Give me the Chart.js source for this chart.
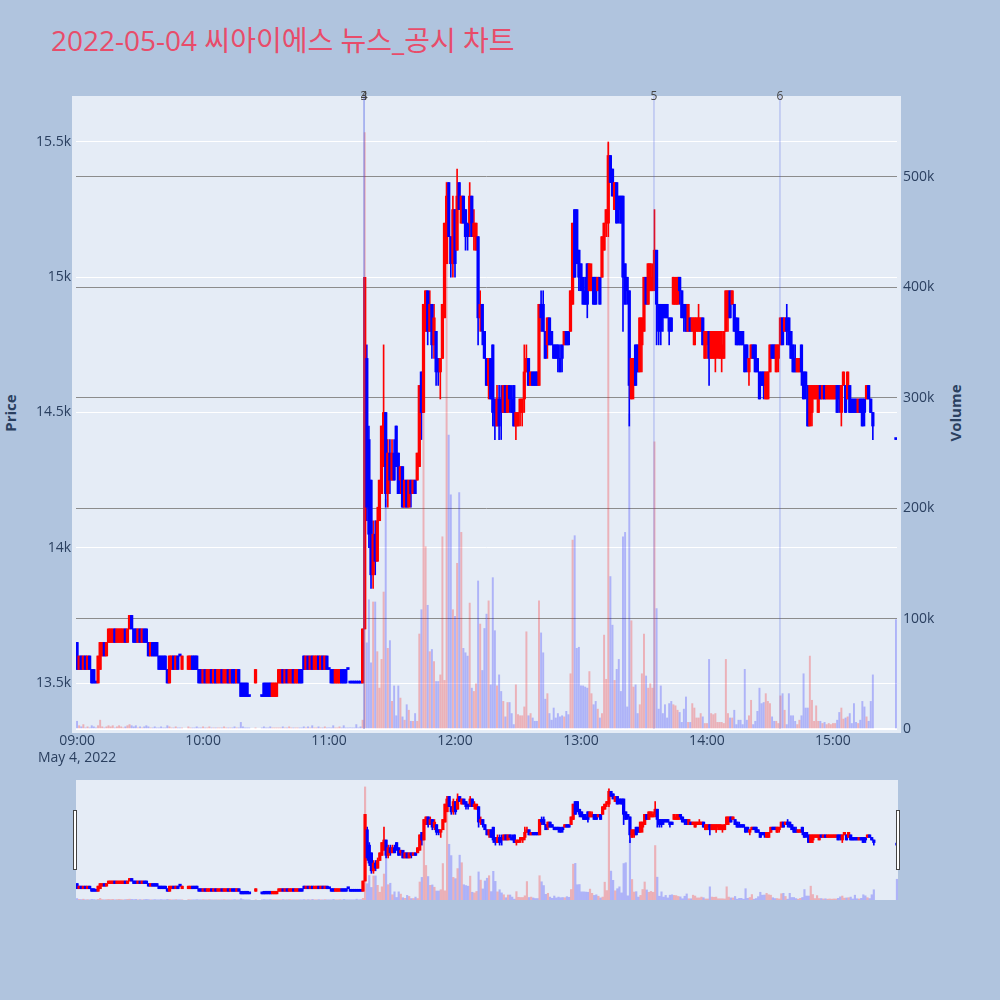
<!DOCTYPE html>
<html>
<head>
<meta charset="utf-8">
<script src="https://cdn.jsdelivr.net/npm/chart.js@4.4.0/dist/chart.umd.min.js"></script>
<style>
  body { margin:0; width:1000px; height:1000px; background:#B0C4DE; position:relative; overflow:hidden;
         font-family:"Open Sans","Noto Sans CJK KR",sans-serif; }
  #title { position:absolute; left:51px; top:22px; font-size:28px; line-height:36px; color:#E84C6A; white-space:nowrap; }
  .axisTitle { position:absolute; color:#2a3f5f; font-weight:bold; font-size:15px; transform:translate(-50%,-50%) rotate(-90deg); white-space:nowrap; }
  .handle { position:absolute; top:810px; width:2px; height:58px; background:#fff; border:1px solid #444; }
  canvas { position:absolute; left:0; }
</style>
</head>
<body>
<div id="title">2022-05-04 씨아이에스 뉴스_공시 차트</div>
<div class="axisTitle" style="left:10px;top:413px">Price</div>
<div class="axisTitle" style="left:955px;top:413px">Volume</div>
<canvas id="mainChart" width="1000" height="770" style="top:0;width:1000px;height:770px"></canvas>
<canvas id="sliderChart" width="1000" height="150" style="top:770px;width:1000px;height:150px"></canvas>
<div class="handle" style="left:73px"></div>
<div class="handle" style="left:896px"></div>
<script>
// 1. 데이터 (1분봉, 인덱스 = 09:00 이후 경과 분, null = 체결 없음)
const opens = [
  13650,13550,13600,13550,13600,13550,13600,13550,13550,13500,
  13500,13550,13600,13650,13600,13650,13650,13650,13700,13650,
  13650,13650,13650,13700,13650,13700,13750,13700,13700,13650,
  13700,13650,13700,13700,13650,13600,13650,13650,13650,13600,
  13600,13600,13600,13550,13500,13550,13600,13550,13600,13600,
  13550,null,null,13550,13550,13600,13600,13600,13550,13550,
  13500,13550,13500,13500,13550,13500,13550,13500,13500,13550,
  13500,13500,13550,13500,13550,13550,13500,13550,13500,13500,
  13500,13500,13450,null,null,13500,null,null,13450,13500,
  13500,13500,13500,13450,13450,13450,13500,13500,13550,13500,
  13550,13500,13500,13550,13500,13500,13550,13550,13600,13550,
  13600,13550,13600,13550,13550,13600,13550,13600,13550,13600,
  13550,13550,13550,13500,13500,13500,13550,13550,13550,13550,
  13500,13500,13500,13500,13500,13500,13500,13700,14700,14400,
  14250,13900,14050,13950,14100,14200,14300,14500,14200,14350,
  14250,14350,14450,14350,14250,14300,14150,14250,14150,14250,
  14200,14250,14250,14300,14650,14500,14800,14950,14800,14900,
  14750,14800,14700,14650,14700,14850,15050,15350,15150,15050,
  15250,15100,15350,15200,15300,15250,15200,15200,15300,15150,
  15100,15150,14850,14900,14800,14700,14600,14700,14750,14550,
  14450,14550,14550,14500,14600,14500,14600,14550,14600,14450,
  14450,14500,14500,14550,14650,14700,14600,14650,14650,14650,
  14600,14900,14900,14800,14750,14850,14800,14750,14750,14750,
  14700,14750,14750,14800,14800,14800,14900,15250,15250,15100,
  15050,15000,14950,15050,14950,14950,15000,15000,14950,15000,
  15000,15100,15200,15200,15450,15400,15250,15350,15300,15300,
  15300,15050,15000,14950,14550,14600,14750,14750,14650,14750,
  14800,15000,14900,14950,14950,15000,15100,14900,14900,14900,
  14900,14900,14850,14850,14900,14900,14900,15000,14950,14900,
  14900,14800,14850,14800,14750,14800,14800,14800,14850,14700,
  14750,14800,14700,14700,14700,14750,14700,14700,14700,14800,
  14850,14950,14900,14900,14850,14800,14800,14800,14750,14750,
  14650,14700,14750,14750,14700,14650,14650,14650,14550,14550,
  14650,14750,14750,14650,14700,14750,14850,14800,14850,14850,
  14800,14750,14700,14650,14650,14750,14650,14650,14600,14450,
  14500,14550,14550,14500,14600,14550,14600,14550,14550,14550,
  14550,14550,14600,14600,14500,14600,14600,14550,14600,14550,
  14550,14550,14500,14550,14550,14550,14550,14600,14550,14500,
  null,null,null,null,null,null,null,null,null,null,
  14400
];
const highs = [
  13650,13600,13600,13600,13600,13600,13600,13550,13550,13500,
  13600,13650,13650,13650,13650,13700,13700,13700,13700,13700,
  13700,13700,13700,13700,13700,13750,13750,13700,13700,13700,
  13700,13700,13700,13700,13650,13650,13650,13650,13650,13600,
  13600,13600,13600,13550,13600,13600,13600,13600,13600,13600,
  13600,null,null,13600,13600,13600,13600,13600,13550,13550,
  13550,13550,13550,13550,13550,13550,13550,13550,13550,13550,
  13550,13550,13550,13550,13550,13550,13550,13550,13500,13500,
  13500,13500,13450,null,null,13550,null,null,13450,13500,
  13500,13500,13500,13500,13500,13500,13550,13550,13550,13550,
  13550,13550,13550,13550,13550,13550,13550,13550,13600,13600,
  13600,13600,13600,13600,13600,13600,13600,13600,13600,13600,
  13550,13550,13550,13550,13550,13550,13550,13550,13550,13550,
  13500,13500,13500,13500,13500,13500,13700,15000,14750,14450,
  14250,14100,14100,14150,14250,14450,14750,14500,14400,14400,
  14400,14400,14450,14350,14300,14300,14250,14250,14250,14250,
  14250,14250,14350,14600,14650,14900,14950,14950,14950,14900,
  14900,14800,14700,14700,14900,15200,15350,15350,15150,15300,
  15250,15400,15350,15300,15300,15250,15200,15350,15300,15250,
  15200,15150,14950,14900,14800,14700,14700,14700,14750,14550,
  14600,14600,14600,14600,14600,14600,14600,14600,14600,14500,
  14500,14550,14550,14750,14750,14700,14650,14650,14650,14650,
  14900,14950,14950,14800,14850,14850,14800,14750,14750,14750,
  14750,14750,14800,14800,14800,14950,15200,15250,15250,15100,
  15050,15000,15000,15050,15050,15050,15000,15000,15000,15000,
  15150,15200,15250,15500,15450,15400,15350,15350,15300,15300,
  15300,15050,15000,14950,14700,14700,14750,14750,14850,14850,
  15000,15000,15050,15050,15050,15250,15100,14900,14900,14900,
  14900,14900,14850,14850,15000,15000,15000,15000,14950,14900,
  14900,14900,14850,14850,14850,14850,14900,14850,14850,14800,
  14800,14800,14800,14800,14800,14800,14800,14800,14800,14950,
  14950,14950,14950,14900,14850,14850,14800,14800,14750,14750,
  14700,14750,14750,14750,14700,14650,14650,14650,14650,14650,
  14750,14750,14750,14750,14750,14850,14850,14850,14900,14850,
  14800,14750,14750,14700,14700,14750,14650,14650,14600,14600,
  14600,14600,14600,14600,14600,14600,14600,14600,14600,14600,
  14600,14600,14600,14600,14600,14650,14600,14650,14600,14550,
  14550,14550,14550,14550,14550,14550,14600,14600,14550,14500,
  null,null,null,null,null,null,null,null,null,null,
  14400
];
const lows = [
  13550,13550,13550,13550,13550,13550,13550,13500,13500,13500,
  13500,13550,13600,13600,13600,13650,13650,13650,13650,13650,
  13650,13650,13650,13650,13650,13700,13700,13650,13650,13650,
  13650,13650,13650,13650,13600,13600,13600,13600,13600,13550,
  13550,13550,13550,13500,13500,13550,13550,13550,13550,13600,
  13550,null,null,13550,13550,13550,13550,13550,13500,13500,
  13500,13500,13500,13500,13500,13500,13500,13500,13500,13500,
  13500,13500,13500,13500,13500,13500,13500,13500,13450,13450,
  13450,13450,13450,null,null,13500,null,null,13450,13450,
  13450,13450,13450,13450,13450,13450,13500,13500,13500,13500,
  13500,13500,13500,13500,13500,13500,13500,13500,13550,13550,
  13550,13550,13550,13550,13550,13550,13550,13550,13550,13550,
  13550,13500,13500,13500,13500,13500,13500,13500,13500,13550,
  13500,13500,13500,13500,13500,13500,13500,13700,14100,14000,
  13850,13850,13900,13950,14100,14200,14300,14150,14150,14200,
  14250,14250,14300,14200,14200,14150,14150,14150,14150,14150,
  14200,14200,14250,14300,14400,14500,14800,14750,14800,14700,
  14700,14600,14600,14550,14700,14850,15050,15150,15000,15000,
  15000,15100,15250,15200,15200,15100,15100,15150,15150,15100,
  15100,14750,14800,14750,14700,14600,14550,14550,14450,14400,
  14450,14400,14400,14500,14500,14500,14500,14500,14450,14400,
  14450,14450,14450,14500,14650,14600,14600,14600,14600,14600,
  14600,14800,14800,14700,14700,14750,14750,14700,14700,14650,
  14650,14650,14750,14750,14750,14800,14900,15000,15050,14950,
  14950,14900,14900,14850,14950,14950,14900,14900,14950,14900,
  15000,15100,15150,15150,15350,15300,15250,15200,15200,15200,
  14800,14900,14900,14450,14550,14550,14600,14650,14650,14650,
  14800,14900,14900,14950,14950,14950,14750,14750,14750,14800,
  14850,14850,14750,14800,14900,14900,14900,14900,14850,14800,
  14800,14800,14800,14800,14750,14800,14800,14800,14750,14700,
  14700,14600,14700,14700,14650,14700,14700,14650,14700,14800,
  14800,14850,14900,14800,14750,14750,14750,14750,14650,14650,
  14600,14700,14700,14650,14650,14550,14600,14550,14550,14550,
  14650,14700,14700,14650,14650,14750,14750,14800,14750,14750,
  14700,14650,14650,14650,14650,14600,14550,14550,14450,14450,
  14450,14550,14550,14500,14550,14550,14550,14550,14550,14550,
  14550,14550,14500,14500,14450,14600,14500,14550,14500,14500,
  14500,14500,14500,14500,14450,14450,14550,14550,14500,14400,
  null,null,null,null,null,null,null,null,null,null,
  14400
];
const closes = [
  13550,13600,13550,13600,13550,13600,13550,13500,13500,13500,
  13600,13650,13650,13600,13650,13700,13700,13700,13650,13700,
  13700,13700,13700,13650,13700,13750,13700,13650,13650,13700,
  13650,13700,13650,13650,13600,13650,13600,13600,13600,13550,
  13550,13550,13550,13500,13600,13600,13550,13600,13550,13600,
  13600,null,null,13600,13600,13550,13550,13550,13500,13500,
  13550,13500,13550,13550,13500,13550,13500,13550,13550,13500,
  13550,13550,13500,13550,13500,13500,13550,13500,13450,13450,
  13450,13450,13450,null,null,13550,null,null,13450,13450,
  13450,13450,13450,13500,13500,13500,13550,13550,13500,13550,
  13500,13550,13550,13500,13550,13550,13500,13500,13550,13600,
  13550,13600,13550,13600,13600,13550,13600,13550,13600,13550,
  13550,13500,13500,13550,13550,13550,13500,13500,13500,13550,
  13500,13500,13500,13500,13500,13500,13700,15000,14150,14050,
  13900,14050,13950,14100,14250,14450,14500,14200,14350,14250,
  14350,14250,14300,14200,14300,14150,14250,14150,14250,14200,
  14250,14200,14350,14600,14500,14900,14950,14800,14900,14750,
  14850,14650,14650,14700,14900,15200,15300,15150,15050,15250,
  15050,15300,15250,15300,15200,15150,15150,15300,15150,15200,
  15200,14850,14900,14800,14700,14600,14700,14550,14500,14450,
  14550,14450,14500,14600,14500,14600,14550,14500,14450,14500,
  14500,14550,14550,14650,14700,14600,14650,14600,14600,14600,
  14900,14850,14800,14700,14850,14750,14750,14700,14700,14700,
  14650,14700,14800,14750,14750,14950,15200,15000,15050,15000,
  14950,14900,14900,14900,15050,15000,14900,14900,15000,14900,
  15150,15200,15250,15450,15350,15300,15350,15200,15250,15200,
  15000,14900,14950,14600,14700,14700,14600,14650,14850,14850,
  15000,14900,15050,15050,15000,15100,14900,14800,14800,14850,
  14850,14850,14800,14800,15000,14950,15000,14950,14850,14850,
  14800,14900,14800,14850,14850,14850,14850,14850,14750,14800,
  14800,14700,14800,14800,14800,14800,14800,14750,14800,14950,
  14950,14850,14950,14800,14750,14750,14750,14750,14650,14700,
  14700,14750,14700,14650,14650,14550,14600,14600,14650,14650,
  14750,14700,14700,14750,14750,14850,14750,14850,14800,14750,
  14700,14650,14650,14700,14700,14650,14550,14600,14450,14600,
  14600,14600,14600,14600,14550,14600,14550,14600,14600,14600,
  14600,14600,14500,14550,14600,14650,14500,14650,14500,14500,
  14500,14500,14550,14500,14450,14500,14600,14550,14500,14450,
  null,null,null,null,null,null,null,null,null,null,
  14400
];
// 거래량 (천 주)
const volumesK = [
  7,3,2,4,1,2,1,3,2,1,
  3,8,2,1,2,3,2,3,1,2,
  3,2,1,2,3,4,3,2,3,1,
  2,1,2,3,2,1,1,2,1,1,
  2,1,1,3,2,1,1,2,1,1,
  1,null,null,2,1,1,1,2,1,1,
  2,1,1,2,1,1,1,1,1,1,
  2,1,1,1,1,2,1,1,6,2,
  1,1,1,null,null,1,null,null,1,2,
  1,1,2,1,1,1,1,1,2,1,
  1,2,1,1,1,1,1,1,2,1,
  2,1,3,1,1,2,1,1,2,1,
  1,1,3,1,1,2,1,3,1,1,
  1,1,1,4,1,2,8,540,78,117,
  60,115,115,70,37,63,124,208,73,80,
  25,39,12,39,28,11,8,22,17,7,
  7,14,7,86,108,320,165,112,70,72,
  61,43,43,49,174,44,495,266,212,108,
  102,150,214,178,73,69,66,114,37,34,
  41,134,95,53,91,104,116,40,137,89,
  39,49,34,25,11,24,24,14,4,40,
  13,12,12,20,88,12,14,10,7,7,
  116,87,69,27,32,14,8,19,10,14,
  11,12,11,16,13,50,171,175,73,74,
  39,39,38,37,52,32,22,25,18,10,
  14,85,45,530,138,94,44,54,63,34,
  174,178,20,285,98,38,40,14,22,50,
  86,48,37,41,37,260,109,18,39,14,
  22,10,23,25,22,21,17,15,6,18,
  29,6,6,23,19,10,10,14,11,5,
  5,63,14,13,14,6,6,6,5,63,
  14,10,10,17,4,8,8,4,54,8,
  12,26,4,7,16,37,23,24,32,25,
  23,11,7,7,5,30,32,17,4,32,
  12,12,7,4,8,12,50,19,19,66,
  26,7,21,7,7,5,6,4,5,4,
  5,5,8,15,19,9,10,11,14,5,
  23,6,5,8,25,20,11,7,25,49,
  null,null,null,null,null,null,null,null,null,null,
  99
];

// 축 눈금
const xTickMinutes = [0, 60, 120, 180, 240, 300, 360];
const xTickLabels = ['09:00', '10:00', '11:00', '12:00', '13:00', '14:00', '15:00'];
const dateLabel = 'May 4, 2022';
const priceTicks = [13500, 14000, 14500, 15000, 15500];
const volumeTicksK = [0, 100, 200, 300, 400, 500];

// 뉴스/공시 이벤트 (번호, 시각)
const eventLabels = ['3', '4', '5', '6'];
const eventTimes = ['11:16:40', '11:16:42', '13:34:46', '14:34:46'];

const priceRange = [13330, 15670];
const volumeRangeK = [0, 573];
const minuteRange = [-0.5, 390.5];

Chart.defaults.font.family = '"Open Sans","Noto Sans CJK KR",sans-serif';

const UP = '#FF0000', DOWN = '#0000FF';
const UP_VOL = 'rgba(255,0,0,0.25)', DOWN_VOL = 'rgba(0,0,255,0.24)';

const idx = opens.map((o, i) => o === null ? -1 : i).filter(i => i >= 0);
const isUp = i => closes[i] > opens[i];

function toMinute(t) {
  const [h, m, s] = t.split(':').map(Number);
  return (h - 9) * 60 + m + (s || 0) / 60;
}

// 2. 데이터셋 생성 (거래량이 캔들 위에 그려짐)
function makeDatasets(volWidth) {
  return [
    {
      type: 'bar', yAxisID: 'y2', order: 0, grouped: false, barThickness: volWidth,
      data: idx.map(i => ({ x: i, y: volumesK[i] })),
      backgroundColor: idx.map(i => isUp(i) ? UP_VOL : DOWN_VOL)
    },
    {
      type: 'bar', yAxisID: 'y', order: 1, grouped: false, barThickness: 2.6, minBarLength: 2,
      data: idx.map(i => ({ x: i, y: [opens[i], closes[i]] })),
      backgroundColor: idx.map(i => isUp(i) ? UP : DOWN)
    },
    {
      type: 'bar', yAxisID: 'y', order: 2, grouped: false, barThickness: 1,
      data: idx.map(i => ({ x: i, y: [lows[i], highs[i]] })),
      backgroundColor: idx.map(i => isUp(i) ? UP : DOWN)
    }
  ];
}

const plotBg = (pad) => ({
  id: 'plotBg',
  beforeDraw(chart) {
    const { ctx, chartArea: a } = chart;
    ctx.save();
    ctx.fillStyle = '#E5ECF6';
    ctx.fillRect(a.left - pad, a.top, a.right - a.left + 2 * pad, a.bottom - a.top + pad);
    ctx.restore();
  }
});

const eventLines = {
  id: 'eventLines',
  afterDatasetsDraw(chart) {
    const { ctx, chartArea: a, scales: { x } } = chart;
    eventTimes.forEach((t, k) => {
      const px = x.getPixelForValue(toMinute(t));
      ctx.save();
      ctx.strokeStyle = 'rgba(70,90,230,0.4)';
      ctx.lineWidth = 1;
      ctx.beginPath();
      ctx.moveTo(px, a.top);
      ctx.lineTo(px, a.bottom);
      ctx.stroke();
      ctx.fillStyle = '#444';
      ctx.font = '12px "Open Sans"';
      ctx.textAlign = 'center';
      ctx.textBaseline = 'middle';
      ctx.fillText(eventLabels[k], px, a.top + 1);
      ctx.restore();
    });
  }
};

const tickFont = { size: 14 };
const tickColor = '#2a3f5f';

// 3. 메인 차트
new Chart(document.getElementById('mainChart'), {
  data: { datasets: makeDatasets(1.3) },
  options: {
    responsive: false, animation: false, events: [],
    layout: { padding: { left: 0, right: 43, top: 96, bottom: 1 } },
    plugins: { legend: { display: false }, tooltip: { enabled: false } },
    scales: {
      x: {
        type: 'linear', min: minuteRange[0], max: minuteRange[1], offset: false,
        grid: { display: false, drawTicks: false }, border: { display: false },
        afterBuildTicks: s => { s.ticks = xTickMinutes.map(v => ({ value: v })); },
        afterFit: s => { s.height = 40; },
        ticks: {
          autoSkip: false, maxRotation: 0, padding: 4, color: tickColor, font: tickFont,
          callback: (v, i) => i === 0 ? [xTickLabels[i], dateLabel] : xTickLabels[i]
        }
      },
      y: {
        position: 'left', min: priceRange[0], max: priceRange[1],
        grid: { color: '#ffffff', lineWidth: 1, drawTicks: false }, border: { display: false },
        afterBuildTicks: s => { s.ticks = priceTicks.map(v => ({ value: v })); },
        afterFit: s => { s.width = 76; },
        ticks: { padding: 5, color: tickColor, font: tickFont, callback: v => (v / 1000) + 'k' }
      },
      y2: {
        position: 'right', min: volumeRangeK[0], max: volumeRangeK[1],
        grid: {
          drawTicks: false,
          color: c => c.tick && c.tick.value === 0 ? '#ffffff' : '#8c8c8c',
          lineWidth: c => c.tick && c.tick.value === 0 ? 2 : 1
        },
        border: { display: false },
        afterBuildTicks: s => { s.ticks = volumeTicksK.map(v => ({ value: v })); },
        afterFit: s => { s.width = 60; },
        ticks: { padding: 6, color: tickColor, font: tickFont, callback: v => v === 0 ? '0' : v + 'k' }
      }
    }
  },
  plugins: [plotBg(4), eventLines]
});

// 4. 레인지 슬라이더 (전체 구간 미니 차트)
new Chart(document.getElementById('sliderChart'), {
  data: { datasets: makeDatasets(1.5) },
  options: {
    responsive: false, animation: false, events: [],
    layout: { padding: { left: 76, right: 102, top: 10, bottom: 20 } },
    plugins: { legend: { display: false }, tooltip: { enabled: false } },
    scales: {
      x: { type: 'linear', display: false, min: minuteRange[0], max: minuteRange[1], offset: false },
      y: { display: false, min: priceRange[0], max: priceRange[1] },
      y2: { display: false, min: volumeRangeK[0], max: volumeRangeK[1] }
    }
  },
  plugins: [plotBg(0)]
});
</script>
</body>
</html>
